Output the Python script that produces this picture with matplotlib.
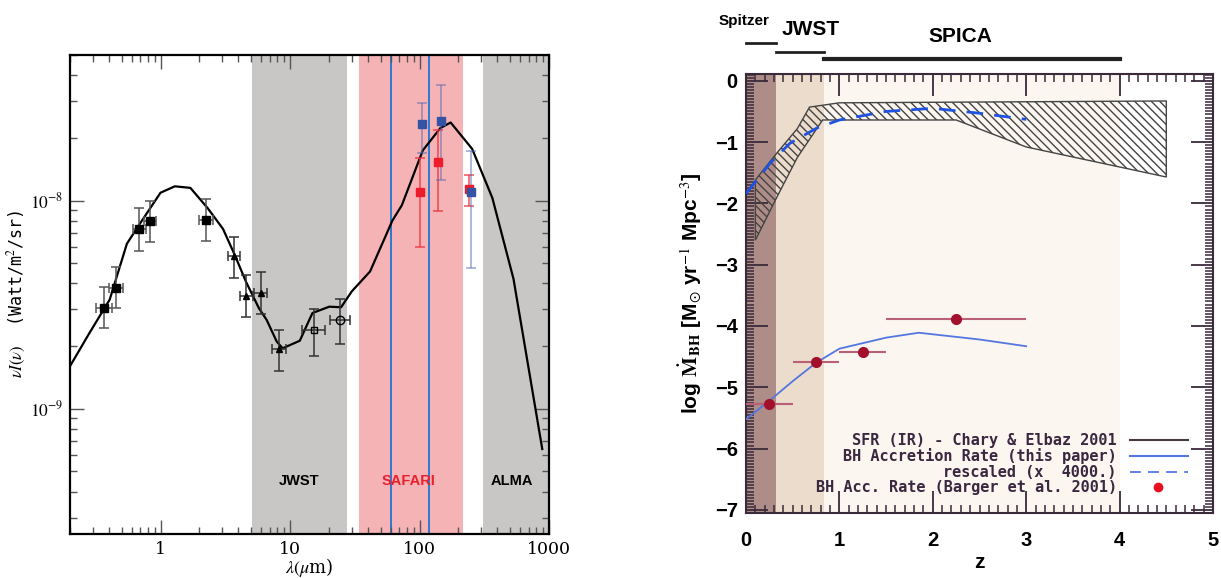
import numpy as np
import matplotlib
matplotlib.use('Agg')
import matplotlib.pyplot as plt
from matplotlib.ticker import MultipleLocator, LogLocator, NullFormatter, FixedLocator, FixedFormatter
import matplotlib.transforms as mtransforms

plt.rcParams['mathtext.fontset'] = 'stix'
plt.rcParams['hatch.linewidth'] = 1.0

# ---------------- left panel data (wavelength um, nu I(nu) in 1e-9 W/m2/sr)
sed_wl = [0.2, 0.278, 0.405, 0.55, 0.675, 1.0, 1.29, 1.70, 2.31, 3.04, 3.73, 4.59, 5.75, 6.6, 7.9, 8.77,
          11.9, 14.9, 20.1, 24.8, 30.0, 41.5, 61.7, 73.1, 106, 145, 174, 255, 365, 532, 887]
sed_flux = [1.6, 2.27, 3.34, 6.2, 7.55, 10.9, 11.7, 11.5, 9.2, 7.3, 5.5, 4.05, 3.04, 2.67, 2.1, 1.95,
            2.12, 2.88, 3.09, 3.07, 3.66, 4.56, 8.0, 9.5, 17.4, 22.3, 23.7, 17.7, 10.3, 4.2, 0.64]

sq_wl = [0.365, 0.452, 0.684, 0.835, 2.26]
sq_wl_lo = [0.318, 0.40, 0.61, 0.75, 2.0]
sq_wl_hi = [0.42, 0.51, 0.77, 0.93, 2.55]
sq_flux = [3.05, 3.81, 7.26, 7.94, 8.09]
sq_lo = [2.43, 3.03, 5.75, 6.3, 6.4]
sq_hi = [3.86, 4.81, 9.16, 10.0, 10.2]

tri_wl = [3.68, 4.59, 5.94, 8.2]
tri_wl_lo = [3.3, 4.1, 5.3, 7.3]
tri_wl_hi = [4.1, 5.2, 6.7, 9.3]
tri_flux = [5.4, 3.47, 3.58, 1.93]
tri_lo = [4.25, 2.77, 2.84, 1.52]
tri_hi = [6.7, 4.38, 4.52, 2.4]

osq_wl, osq_wl_lo, osq_wl_hi = [15.4], [12.4], [18.6]
osq_flux, osq_lo, osq_hi = [2.38], [1.8], [3.0]
ocirc_wl, ocirc_wl_lo, ocirc_wl_hi = [24.5], [20.4], [29.0]
ocirc_flux, ocirc_lo, ocirc_hi = [2.68], [2.04], [3.36]

red_wl = [100, 140, 240]
red_flux = [11.0, 15.3, 11.3]
red_lo = [5.97, 8.9, 9.45]
red_hi = [16.0, 21.7, 13.3]

blue_wl = [104, 147, 250]
blue_flux = [23.4, 24.1, 11.0]
blue_lo = [17.0, 12.6, 4.73]
blue_hi = [29.5, 35.9, 17.2]

bands = [('JWST', 5.1, 27.7, '#c8c7c5', 'black', 11.7),
         ('SAFARI', 33.8, 215, '#f6b3b6', '#e8202e', 82),
         ('ALMA', 310, 1000, '#c8c7c5', 'black', 520)]
safari_lines = [60, 119]

# ---------------- right panel data (z, log BH accretion rate)
hatch_up_z = [0.1, 0.33, 0.55, 0.68, 1.0, 4.5]
hatch_up_v = [-1.62, -1.18, -0.78, -0.43, -0.36, -0.33]
hatch_lo_z = [0.1, 0.33, 0.55, 0.82, 2.25, 3.0, 4.5]
hatch_lo_v = [-2.6, -1.9, -1.25, -0.64, -0.64, -1.08, -1.57]

dash_z = [0, 0.26, 0.47, 0.76, 1.0, 1.5, 2.0, 2.5, 3.0]
dash_v = [-1.84, -1.34, -1.02, -0.77, -0.64, -0.5, -0.45, -0.53, -0.63]

bh_z = [0, 0.25, 0.5, 0.75, 1.0, 1.5, 1.85, 2.5, 3.0]
bh_v = [-5.52, -5.22, -4.9, -4.6, -4.37, -4.19, -4.11, -4.22, -4.33]

barger_z = [0.25, 0.75, 1.25, 2.25]
barger_v = [-5.28, -4.58, -4.43, -3.89]
barger_zlo = [0.0, 0.5, 1.0, 1.5]
barger_zhi = [0.5, 1.0, 1.5, 3.0]

zones = [('Spitzer', 0.0, 0.32, '#ae8c87'), ('JWST', 0.32, 0.83, '#ecdccb'), ('SPICA', 0.83, 4.0, '#fbf6f0')]

legend_labels = ['SFR (IR) - Chary & Elbaz 2001', 'BH Accretion Rate (this paper)',
                 'rescaled (x  4000.)', 'BH Acc. Rate (Barger et al. 2001)']

fig = plt.figure(figsize=(12.21, 5.78), dpi=100)

# ================= left panel
ax = fig.add_axes([70/1221, 44/578, 479/1221, 479/578])
ax.set_xscale('log'); ax.set_yscale('log')
for name, a, b, fc, tc, xt in bands:
    ax.axvspan(a, b, color=fc, lw=0, zorder=0)
    ax.text(xt, 4.5e-10, name, ha='center', va='center', fontsize=10.5, fontweight='bold',
            color=tc, family='Liberation Sans')
for w in safari_lines:
    ax.axvline(w, color='#0b6fd6', lw=1.2, zorder=1)

e9 = 1e-9
ax.plot(sed_wl, np.array(sed_flux) * e9, color='black', lw=1.6, zorder=3)

def errpts(wl, wlo, whi, f, lo, hi, marker, ms, mfc, ecol, alpha=1.0):
    wl = np.array(wl); f = np.array(f) * e9
    yerr = [f - np.array(lo) * e9, np.array(hi) * e9 - f]
    xerr = None
    if wlo is not None:
        xerr = [wl - np.array(wlo), np.array(whi) - wl]
    ax.errorbar(wl, f, yerr=yerr, xerr=xerr, fmt='none', ecolor=ecol, elinewidth=1.1,
                capsize=3.3, capthick=1.1, alpha=alpha, zorder=4)
    ax.plot(wl, f, marker, ms=ms, mfc=mfc, mec='black', mew=1.0, zorder=5, ls='none')

errpts(sq_wl, sq_wl_lo, sq_wl_hi, sq_flux, sq_lo, sq_hi, 's', 5.5, 'black', '#555555')
errpts(tri_wl, tri_wl_lo, tri_wl_hi, tri_flux, tri_lo, tri_hi, '^', 4.5, 'black', '#333333')
errpts(osq_wl, osq_wl_lo, osq_wl_hi, osq_flux, osq_lo, osq_hi, 's', 5, 'none', '#333333')
errpts(ocirc_wl, ocirc_wl_lo, ocirc_wl_hi, ocirc_flux, ocirc_lo, ocirc_hi, 'o', 6, 'none', '#333333')

rf = np.array(red_flux) * e9
ax.errorbar(red_wl, rf, yerr=[rf - np.array(red_lo) * e9, np.array(red_hi) * e9 - rf], fmt='none',
            ecolor='#ee3340', elinewidth=1.1, capsize=3.5, capthick=1.1, alpha=0.85, zorder=4)
ax.plot(red_wl, rf, 's', ms=5.5, color='#ee1c2a', zorder=5)
bf = np.array(blue_flux) * e9
ax.errorbar(blue_wl, bf, yerr=[bf - np.array(blue_lo) * e9, np.array(blue_hi) * e9 - bf], fmt='none',
            ecolor='#5468b0', elinewidth=1.1, capsize=3.5, capthick=1.1, alpha=0.6, zorder=4)
ax.plot(blue_wl, bf, 's', ms=5.5, color='#3553a5', zorder=6)

ax.set_xlim(0.2, 1000)
ax.set_ylim(2.5e-10, 5e-8)
ax.xaxis.set_major_locator(FixedLocator([1, 10, 100, 1000]))
ax.xaxis.set_major_formatter(FixedFormatter(['1', '10', '100', '1000']))
ax.xaxis.set_minor_locator(LogLocator(base=10, subs=np.arange(2, 10)))
ax.xaxis.set_minor_formatter(NullFormatter())
ax.yaxis.set_major_locator(FixedLocator([1e-9, 1e-8]))
ax.yaxis.set_major_formatter(FixedFormatter([r'$10^{-9}$', r'$10^{-8}$']))
ax.yaxis.set_minor_locator(LogLocator(base=10, subs=np.arange(2, 10)))
ax.yaxis.set_minor_formatter(NullFormatter())
ax.tick_params(which='both', direction='in', top=True, right=True, labelsize=12.5, pad=5)
ax.tick_params(which='major', length=10, width=1.0, color='#555555')
ax.tick_params(which='minor', length=5, width=1.0, color='#555555')
for lab in ax.get_xticklabels() + ax.get_yticklabels():
    lab.set_family('DejaVu Serif')
for s in ax.spines.values():
    s.set_linewidth(1.6)
ax.set_xlabel(r'$\lambda(\mu$m)', fontsize=13, family='DejaVu Serif')
ax.xaxis.set_label_coords(0.5, -0.045)
ax.set_ylabel(r'$\nu I(\nu)$  (Watt/m$^2$/sr)', fontsize=12, family='DejaVu Sans Mono')
ax.yaxis.set_label_coords(-0.088, 0.5)

# ================= right panel
ax2 = fig.add_axes([746/1221, 65/578, 467/1221, 439/578])
for name, a, b, fc in zones:
    ax2.axvspan(a, b, color=fc, lw=0, zorder=0)

poly_z = np.concatenate([hatch_up_z, hatch_lo_z[::-1]])
poly_v = np.concatenate([hatch_up_v, hatch_lo_v[::-1]])
ax2.fill(poly_z, poly_v, facecolor='none', edgecolor='#444444', hatch='\\\\\\\\', lw=1.0, zorder=2)
ax2.plot(dash_z, dash_v, color='#1f52e0', lw=2.0, dashes=(6, 4), zorder=3)
ax2.plot(bh_z, bh_v, color='#5476e0', lw=1.3, zorder=3)

bz = np.array(barger_z)
ax2.errorbar(bz, barger_v, xerr=[bz - np.array(barger_zlo), np.array(barger_zhi) - bz], fmt='o',
             ms=7, color='#a3102c', ecolor='#b86075', elinewidth=1.5, capsize=0, zorder=4)

ax2.set_xlim(0, 5)
ax2.set_ylim(-7.05, 0.11)
ax2.xaxis.set_major_locator(MultipleLocator(1))
ax2.xaxis.set_minor_locator(MultipleLocator(0.1))
ax2.yaxis.set_major_locator(MultipleLocator(1))
ax2.yaxis.set_minor_locator(MultipleLocator(0.05))
ax2.tick_params(which='both', direction='in', top=True, right=True, color='#3a2a3a')
ax2.tick_params(which='major', length=16, width=1.3, labelsize=14.5)
ax2.tick_params(which='minor', length=6, width=1.1)
ax2.tick_params(axis='x', pad=13)
ax2.tick_params(axis='y', pad=6)
for lab in ax2.get_xticklabels() + ax2.get_yticklabels():
    lab.set_fontweight('bold'); lab.set_family('Liberation Sans')
for s in ax2.spines.values():
    s.set_linewidth(1.5); s.set_color('#3a2a3a')
ax2.set_xlabel('z', fontsize=15, fontweight='bold', family='Liberation Sans', labelpad=2)
ax2.set_ylabel(r'log $\mathbf{\dot{M}}_{\,\mathbf{BH}}$ [M$_{\odot}$ yr$^{-1}$ Mpc$^{-3}$]',
               fontsize=15, fontweight='bold', family='Liberation Sans', labelpad=8)

# instrument bars above the panel
trans = mtransforms.blended_transform_factory(ax2.transData, ax2.transAxes)
bar_y = [1.0713, 1.0494, 1.0335]
bar_lw = [2.0, 2.0, 3.0]
txt_y = [1.121, 1.102, 1.085]
txt_fs = [11, 15, 15]
txt_x = [-0.02, 0.69, 2.30]
for (name, a, b, fc), by, lw, ty, fs, tx in zip(zones, bar_y, bar_lw, txt_y, txt_fs, txt_x):
    ax2.plot([a, b], [by, by], color='#222222', lw=lw, transform=trans, clip_on=False)
    ax2.text(tx, ty, name, transform=trans, ha='center', va='center', fontsize=fs,
             fontweight='bold', family='Liberation Sans')

# legend drawn by hand (text right-aligned, handles on the right)
leg_y = [0.166, 0.130, 0.093, 0.059]
for lab, y in zip(legend_labels, leg_y):
    ax2.text(0.794, y, lab, transform=ax2.transAxes, ha='right', va='center', fontsize=11,
             family='DejaVu Sans Mono', fontweight='bold', color='#3a2840', zorder=6)
ax2.plot([0.822, 0.946], [leg_y[0]] * 2, transform=ax2.transAxes, color='#4a3a40', lw=1.5)
ax2.plot([0.822, 0.946], [leg_y[1]] * 2, transform=ax2.transAxes, color='#5476e0', lw=1.5)
ax2.plot([0.822, 0.946], [leg_y[2]] * 2, transform=ax2.transAxes, color='#5476e0', lw=1.3, dashes=(6, 4))
ax2.plot([0.882], [leg_y[3]], 'o', transform=ax2.transAxes, color='#e8101e', ms=6)

fig.savefig('out.png', dpi=100)
